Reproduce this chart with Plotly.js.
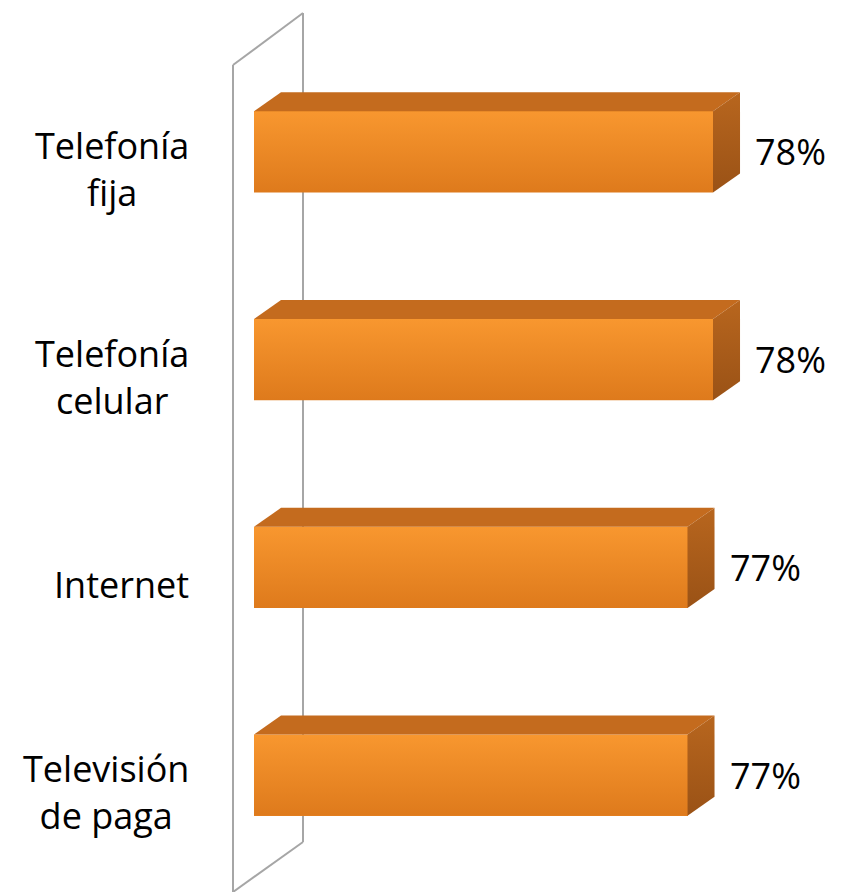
<!DOCTYPE html>
<html>
<head>
<meta charset="utf-8">
<script src="https://cdn.plot.ly/plotly-3.0.1.min.js"></script>
<style>html,body{margin:0;padding:0;background:#fff;}#chart{width:845px;height:892px;}</style>
</head>
<body>
<div id="chart"></div>
<script>
// ---- data ----
const categories = ['Telefonía<br>fija', 'Telefonía<br>celular', 'Internet', 'Televisión<br>de paga'];
const values = [0.78, 0.78, 0.77, 0.77];
const valueLabels = ['78%', '78%', '77%', '77%'];
const axisMin = 0.6;
const axisMax = 0.8;

// ---- geometry (depth of the 3D faces, in axis units) ----
const BAR_W = 0.39;
const DX = 0.0106;   // horizontal depth
const DY = 0.0915;   // vertical depth (category units)

const W = 845, H = 892;
const margin = {l: 254, r: 81, t: 48, b: 13};
const plotW = W - margin.l - margin.r;
const plotH = H - margin.t - margin.b;
const px2paperX = p => (p - margin.l) / plotW;
const px2paperY = p => (H - margin.b - p) / plotH;

const yPos = categories.map((_, i) => i);

const traces = [];
// front faces (base bars)
traces.push({
  type: 'bar', orientation: 'h',
  x: values, y: yPos, width: BAR_W,
  marker: {color: '#F08A24', line: {width: 0}},
  hoverinfo: 'none', showlegend: false
});
values.forEach((v, i) => {
  const top = i - BAR_W / 2, bot = i + BAR_W / 2;
  // front face gradient overlay
  traces.push({
    type: 'scatter', mode: 'none', fill: 'toself',
    fillcolor: '#F08A24',
    fillgradient: {type: 'vertical', colorscale: [[0, '#DE7A1C'], [1, '#F8972F']]},
    x: [axisMin, v, v, axisMin, axisMin],
    y: [top, top, bot, bot, top],
    hoverinfo: 'none', showlegend: false
  });
  // top face
  traces.push({
    type: 'scatter', mode: 'none', fill: 'toself',
    fillcolor: '#C46B1E',
    x: [axisMin, v, v + DX, axisMin + DX, axisMin],
    y: [top, top, top - DY, top - DY, top],
    hoverinfo: 'none', showlegend: false
  });
  // side face
  traces.push({
    type: 'scatter', mode: 'none', fill: 'toself',
    fillcolor: '#A95C19',
    fillgradient: {type: 'vertical', colorscale: [[0, '#9A5216'], [1, '#B8661E']]},
    x: [v, v + DX, v + DX, v, v],
    y: [top, top - DY, bot - DY, bot, top],
    hoverinfo: 'none', showlegend: false
  });
});

const annotations = [];
values.forEach((v, i) => {
  annotations.push({
    xref: 'x', yref: 'y', x: v + DX, y: i, xanchor: 'left', yanchor: 'middle',
    xshift: 13, text: valueLabels[i], showarrow: false,
    font: {family: 'Open Sans', size: 36, color: '#000'}
  });
  annotations.push({
    xref: 'paper', yref: 'y', x: px2paperX(191), y: i, xanchor: 'right', yanchor: 'middle',
    yshift: -17, align: 'center', text: categories[i], showarrow: false,
    font: {family: 'Open Sans', size: 36, color: '#000'}
  });
});

const wallColor = '#A6A6A6';
const line = (x0, y0, x1, y1) => ({
  type: 'line', xref: 'paper', yref: 'paper', layer: 'below',
  x0: px2paperX(x0), y0: px2paperY(y0), x1: px2paperX(x1), y1: px2paperY(y1),
  line: {color: wallColor, width: 2}
});
const shapes = [
  line(233, 65, 233, 892),
  line(303, 13, 303, 842),
  line(233, 65, 303, 13),
  line(233, 892, 303, 842)
];

const layout = {
  width: W, height: H, margin: margin,
  paper_bgcolor: '#fff', plot_bgcolor: 'rgba(0,0,0,0)',
  showlegend: false,
  xaxis: {range: [axisMin, axisMax], visible: false, fixedrange: true},
  yaxis: {range: [3.5, -0.5], visible: false, fixedrange: true},
  annotations: annotations,
  shapes: shapes,
  bargap: 0
};

Plotly.newPlot('chart', traces, layout, {staticPlot: true, displayModeBar: false});
</script>
</body>
</html>
